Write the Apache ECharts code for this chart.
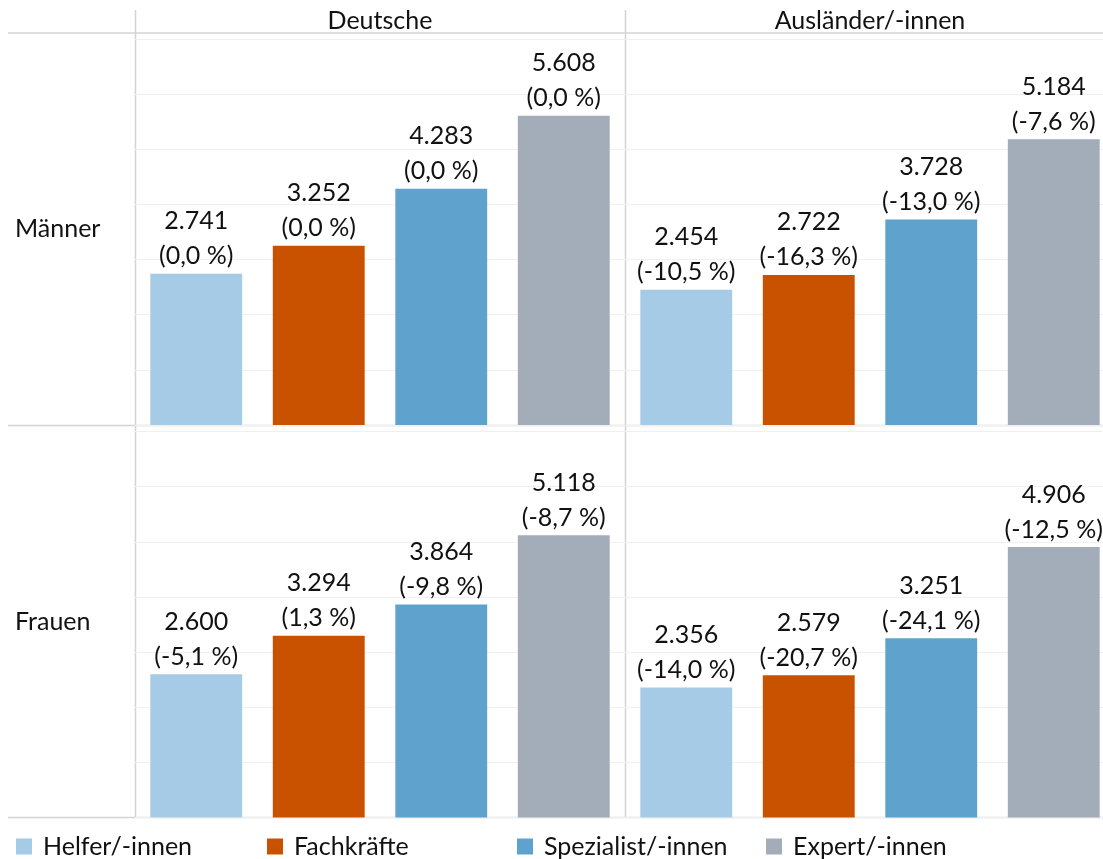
<!DOCTYPE html>
<html>
<head>
<meta charset="utf-8">
<script src="https://cdn.jsdelivr.net/npm/echarts@6/dist/echarts.min.js"></script>
<style>html,body{margin:0;padding:0;background:#fff}#c{width:1103px;height:859px}</style>
</head>
<body>
<div id="c"></div>
<script>
const categories = ['Helfer/-innen', 'Fachkräfte', 'Spezialist/-innen', 'Expert/-innen'];
const colors = ['#A6CBE7', '#C85200', '#5FA2CE', '#A3ACB9'];
const columnHeaders = ['Deutsche', 'Ausländer/-innen'];
const rowHeaders = ['Männer', 'Frauen'];

const menDeutsche = [2741, 3252, 4283, 5608];
const menDeutschePct = [0.0, 0.0, 0.0, 0.0];
const menAuslaender = [2454, 2722, 3728, 5184];
const menAuslaenderPct = [-10.5, -16.3, -13.0, -7.6];
const womenDeutsche = [2600, 3294, 3864, 5118];
const womenDeutschePct = [-5.1, 1.3, -9.8, -8.7];
const womenAuslaender = [2356, 2579, 3251, 4906];
const womenAuslaenderPct = [-14.0, -20.7, -24.1, -12.5];

const yMax = 7000, yInterval = 1000;

const panels = [
  { vals: menDeutsche, pct: menDeutschePct, left: 135, top: 39 },
  { vals: menAuslaender, pct: menAuslaenderPct, left: 625, top: 39 },
  { vals: womenDeutsche, pct: womenDeutschePct, left: 135, top: 431.5 },
  { vals: womenAuslaender, pct: womenAuslaenderPct, left: 625, top: 431.5 }
];

const FONT = 'Lato';
const FS = 25;
const TXT = '#111';
const fmtVal = v => String(v).replace(/\B(?=(\d{3})+(?!\d))/g, '.');
const fmtPct = p => p.toFixed(1).replace('.', ',') + ' %';

const grid = [], xAxis = [], yAxis = [], series = [];
panels.forEach((p, gi) => {
  grid.push({ left: p.left, top: p.top, width: 490, height: 386, outerBoundsMode: 'none', containLabel: false });
  xAxis.push({ gridIndex: gi, type: 'category', data: categories,
    axisLine: { show: false }, axisTick: { show: false }, axisLabel: { show: false } });
  yAxis.push({ gridIndex: gi, type: 'value', min: 0, max: yMax, interval: yInterval,
    axisLine: { show: false }, axisTick: { show: false }, axisLabel: { show: false },
    splitLine: { lineStyle: { color: '#f0f0f0', width: 1 } } });
  categories.forEach((c, ci) => {
    const data = categories.map((_, k) => k === ci ? p.vals[k] : '-');
    series.push({
      name: c, type: 'bar', xAxisIndex: gi, yAxisIndex: gi,
      data: data, barWidth: '75%', barGap: '-100%',
      itemStyle: { color: colors[ci] },
      label: {
        show: true, position: 'top', distance: 0,
        formatter: prm => fmtVal(prm.value) + '\n(' + fmtPct(p.pct[prm.dataIndex]) + ')',
        fontFamily: FONT, fontSize: FS, lineHeight: 35, color: TXT
      },
      animation: false
    });
  });
});

const legendLefts = [16, 267, 517, 766];
const legend = categories.map((c, i) => ({
  data: [c], left: legendLefts[i], top: 834, itemWidth: 16, itemHeight: 16,
  icon: 'rect', padding: 0,
  textStyle: { fontFamily: FONT, fontSize: FS, color: TXT, padding: [0, 0, 0, 6] }
}));

const lineStyle = { stroke: '#d4d4d4', lineWidth: 1.5 };
const font = FS + 'px Lato';
const graphic = [
  { type: 'line', shape: { x1: 8, y1: 33, x2: 1103, y2: 33 }, style: lineStyle },
  { type: 'line', shape: { x1: 8, y1: 425.5, x2: 1103, y2: 425.5 }, style: lineStyle },
  { type: 'line', shape: { x1: 8, y1: 817.5, x2: 1103, y2: 817.5 }, style: lineStyle },
  { type: 'line', shape: { x1: 135.5, y1: 10, x2: 135.5, y2: 818 }, style: lineStyle },
  { type: 'line', shape: { x1: 625.5, y1: 10, x2: 625.5, y2: 818 }, style: lineStyle },
  { type: 'text', x: 380, y: 21, style: { text: columnHeaders[0], font: font, fill: TXT, textAlign: 'center', textVerticalAlign: 'middle' } },
  { type: 'text', x: 870, y: 21, style: { text: columnHeaders[1], font: font, fill: TXT, textAlign: 'center', textVerticalAlign: 'middle' } },
  { type: 'text', x: 15, y: 229, style: { text: rowHeaders[0], font: font, fill: TXT, textAlign: 'left', textVerticalAlign: 'middle' } },
  { type: 'text', x: 15, y: 622, style: { text: rowHeaders[1], font: font, fill: TXT, textAlign: 'left', textVerticalAlign: 'middle' } }
];

const chart = echarts.init(document.getElementById('c'), null, { renderer: 'canvas' });
chart.setOption({
  animation: false,
  backgroundColor: '#fff',
  grid, xAxis, yAxis, series, legend, graphic
});
</script>
</body>
</html>
